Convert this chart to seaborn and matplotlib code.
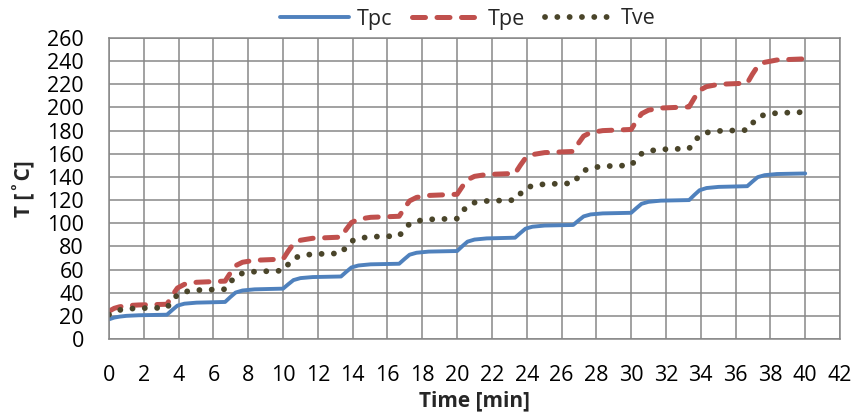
import matplotlib
matplotlib.use("Agg")
import matplotlib.pyplot as plt
import seaborn as sns
import pandas as pd

# time points [min]
time = [0, 0.3, 0.6, 1.0, 1.7,
        3.33, 3.63, 3.93, 4.33, 5.03,
        6.67, 6.97, 7.27, 7.67, 8.37,
        10, 10.3, 10.6, 11.0, 11.7,
        13.33, 13.63, 13.93, 14.33, 15.03,
        16.67, 16.97, 17.27, 17.67, 18.37,
        20, 20.3, 20.6, 21.0, 21.7,
        23.33, 23.63, 23.93, 24.33, 25.03,
        26.67, 26.97, 27.27, 27.67, 28.37,
        30, 30.3, 30.6, 31.0, 31.7,
        33.33, 33.63, 33.93, 34.33, 35.03,
        36.67, 36.97, 37.27, 37.67, 38.37,
        40]

tpc = [17, 18.5, 19.3, 20, 20.5,
       21, 25, 28.8, 30.5, 31.4,
       32, 36.2, 40.1, 41.9, 42.9,
       43.5, 47.3, 50.9, 52.6, 53.5,
       54, 58, 61.8, 63.5, 64.5,
       65, 69, 72.8, 74.5, 75.5,
       76, 80.2, 84.1, 85.9, 86.9,
       87.5, 91.5, 95.3, 97, 98,
       98.5, 102.3, 105.9, 107.6, 108.5,
       109, 113, 116.8, 118.5, 119.5,
       120, 124.4, 128.5, 130.4, 131.4,
       132, 136, 139.8, 141.5, 142.5,
       143]

tpe = [24, 26.5, 27.8, 28.8, 29.4,
       30, 37.5, 44, 47.2, 49,
       50, 57, 63.3, 66.3, 68,
       69, 76, 82.3, 85.3, 87,
       88, 94.7, 100.6, 103.5, 105.1,
       106, 113, 119.3, 122.3, 124,
       125, 131.7, 137.6, 140.5, 142.1,
       143, 150, 156.3, 159.3, 161,
       162, 169, 175.3, 178.3, 180,
       181, 188.2, 194.6, 197.7, 199.5,
       200.5, 208.1, 214.8, 218, 220,
       221, 228.8, 235.6, 239, 241,
       242]

tve = [21, 23.5, 25, 26, 26.6,
       27, 33, 38.2, 40.8, 42.2,
       43, 49, 54.2, 56.8, 58.2,
       59, 64.6, 69.5, 71.9, 73.3,
       74, 79.6, 84.5, 86.9, 88.3,
       89, 94.6, 99.5, 101.9, 103.3,
       104, 110, 115.2, 117.8, 119.2,
       120, 125.4, 130.1, 132.4, 133.8,
       134.5, 140.3, 145.3, 147.8, 149.2,
       150, 155.4, 160.1, 162.4, 163.8,
       164.5, 170.5, 175.7, 178.3, 179.7,
       180.5, 186.3, 191.3, 193.8, 195.2,
       196]

x_ticks = list(range(0, 43, 2))
y_ticks = list(range(0, 261, 20))

sns.set_theme(style="white")
plt.rcParams['font.family'] = ['Open Sans', 'DejaVu Sans']

df = pd.DataFrame({"time": time, "Tpc": tpc, "Tpe": tpe, "Tve": tve})

fig = plt.figure(figsize=(8.56, 4.16), dpi=100)
ax = fig.add_axes([109/856, 1 - 339/416, (840-109)/856, (339-38)/416])

grid_c = "#878787"
ax.set_axisbelow(True)
ax.grid(True, color=grid_c, linewidth=1.1)

sns.lineplot(data=df, x="time", y="Tpc", ax=ax, color="#4F81BD", linewidth=2.8,
             label="Tpc", solid_capstyle="round", solid_joinstyle="round")
sns.lineplot(data=df, x="time", y="Tpe", ax=ax, color="#C0504D", linewidth=3.6,
             label="Tpe", dashes=False)
sns.lineplot(data=df, x="time", y="Tve", ax=ax, color="#4A452A", linewidth=4.2,
             label="Tve", dashes=False)

lines = ax.get_lines()
lines[1].set_dashes((2.6, 2.3))
lines[1].set_dash_capstyle("round")
lines[2].set_dashes((0.01, 2.1))
lines[2].set_dash_capstyle("round")

ax.set_xlim(0, 42)
ax.set_ylim(0, 260)
ax.set_xticks(x_ticks)
ax.set_yticks(y_ticks)
ax.tick_params(axis="both", length=0, labelsize=15.5, colors="black")
ax.tick_params(axis="x", pad=19)
ax.tick_params(axis="y", pad=18)
for s in ax.spines.values():
    s.set_color(grid_c)
    s.set_linewidth(1.1)

ax.set_xlabel("Time [min]", fontsize=15, fontweight="bold", labelpad=3)
ax.set_ylabel("T [˚C]", fontsize=15, fontweight="bold", labelpad=8)

ax.get_legend().remove()
h, l = ax.get_legend_handles_labels()
fig.legend(h, l, loc="center", bbox_to_anchor=(0.547, 1 - 19/416), ncol=3,
           frameon=False, fontsize=15.5, handlelength=3.2, handletextpad=0.35,
           columnspacing=0.9)

fig.savefig("out.png", dpi=100)
